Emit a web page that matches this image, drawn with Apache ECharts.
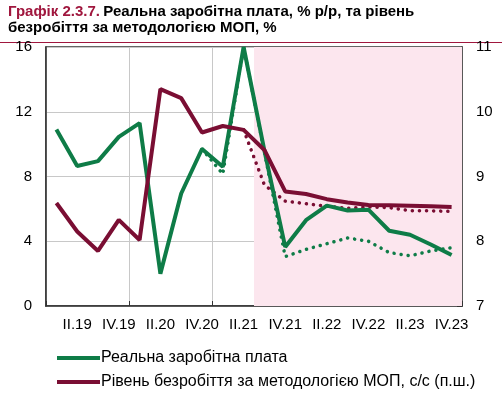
<!DOCTYPE html>
<html>
<head>
<meta charset="utf-8">
<script src="https://cdn.jsdelivr.net/npm/echarts@6/dist/echarts.min.js"></script>
<style>
html,body{margin:0;padding:0;background:#fff;}
#chart{width:502px;height:395px;}
</style>
</head>
<body>
<div id="chart"></div>
<script>
var categories = ['I.19','II.19','III.19','IV.19','I.20','II.20','III.20','IV.20','I.21','II.21','III.21','IV.21','I.22','II.22','III.22','IV.22','I.23','II.23','III.23','IV.23'];
var realWage = [10.9,8.65,8.95,10.45,11.3,2.0,6.95,9.7,8.6,16.0,9.6,3.65,5.3,6.2,5.9,5.95,4.65,4.4,3.8,3.15];
var realWageForecast = [null,null,null,null,null,null,null,9.7,8.15,16.0,9.5,3.05,3.5,3.85,4.2,4.0,3.3,3.1,3.4,3.6];
var unemployment = [8.59,8.15,7.85,8.33,8.02,10.35,10.21,9.68,9.78,9.72,9.41,8.77,8.73,8.65,8.6,8.56,8.555,8.55,8.54,8.53];
var unemploymentForecast = [null,null,null,null,null,null,null,null,null,9.72,8.87,8.62,8.58,8.54,8.51,8.53,8.52,8.47,8.47,8.46];
var shadedFrom = 'III.21';
var leftTicks = [0,4,8,12,16];
var rightTicks = [7,8,9,10,11];
var nameWage = 'Реальна заробітна плата';
var nameUnemp = 'Рівень безробіття за методологією МОП, с/с (п.ш.)';

var green = '#0E7C47';
var maroon = '#7A0E33';
var shadeStartIdx = categories.indexOf(shadedFrom);

var chart = echarts.init(document.getElementById('chart'), null, {renderer:'canvas'});
var font = '"Liberation Sans", Arial, sans-serif';
var dotStyle = function(c){ return {color:c, width:3.5, type:[0.1,7], cap:'round'}; };

chart.setOption({
  animation:false,
  textStyle:{fontFamily:font},
  graphic:[
    {type:'text', left:8, top:4, style:{rich:{r:{fill:'#A0173E',fontWeight:'bold',fontSize:15,fontFamily:font},b:{fill:'#000',fontWeight:'bold',fontSize:15,fontFamily:font}}, text:'{r|Графік 2.3.7.} {b|Реальна заробітна плата, % р/р, та рівень}'}},
    {type:'text', left:8, top:20, style:{text:'безробіття за методологією МОП, %', fill:'#000', fontWeight:'bold', fontSize:15, fontFamily:font}},
    {type:'rect', shape:{x:0,y:42,width:502,height:1}, style:{fill:'#A0173E'}}
  ],
  grid:{left:46, right:40, top:47, bottom:89, show:true, borderColor:'#333', borderWidth:1.5, backgroundColor:'transparent'},
  legend:{
    orient:'vertical', left:52, top:345, itemWidth:43, itemHeight:4, itemGap:8,
    icon:'rect',
    data:[{name:nameWage},{name:nameUnemp}],
    textStyle:{fontSize:16, color:'#000', fontFamily:font, padding:[0,0,0,-4]}
  },
  xAxis:[{
    type:'category', data:categories, boundaryGap:true,
    axisLine:{lineStyle:{color:'#333', width:1.5}},
    axisTick:{show:true, inside:true, length:5, interval:function(i){return i%4===0;}, lineStyle:{color:'#333'}},
    axisLabel:{interval:function(i){return i%2===1;}, fontSize:15, color:'#000', margin:11, fontFamily:font},
    splitLine:{show:true, interval:function(i){return i%4===0;}, lineStyle:{color:'#c8c8c8', width:1}}
  },{
    type:'value', min:0, max:categories.length, show:false
  }],
  yAxis:[{
    type:'value', min:leftTicks[0], max:leftTicks[leftTicks.length-1], interval:4,
    axisLine:{show:true, lineStyle:{color:'#333', width:1.5}},
    axisTick:{show:false},
    axisLabel:{fontSize:15, color:'#000', margin:14, fontFamily:font},
    splitLine:{show:true, lineStyle:{color:'#c8c8c8', width:1}}
  },{
    type:'value', min:rightTicks[0], max:rightTicks[rightTicks.length-1], interval:1,
    axisLine:{show:true, lineStyle:{color:'#333', width:1.5}},
    axisTick:{show:true, inside:true, length:5, lineStyle:{color:'#333'}},
    axisLabel:{fontSize:15, color:'#000', margin:14, fontFamily:font},
    splitLine:{show:false}
  }],
  series:[
    {type:'line', xAxisIndex:1, yAxisIndex:0, data:[], silent:true,
     markArea:{silent:true, itemStyle:{color:'#FCE6EE'}, data:[[{xAxis:shadeStartIdx},{xAxis:categories.length}]]}, z:0},
    {name:nameWage+' прогноз', type:'line', data:realWageForecast, yAxisIndex:0, symbol:'none', lineStyle:dotStyle(green), itemStyle:{color:green}, z:2},
    {name:nameUnemp+' прогноз', type:'line', data:unemploymentForecast, yAxisIndex:1, symbol:'none', lineStyle:dotStyle(maroon), itemStyle:{color:maroon}, z:2},
    {name:nameWage, type:'line', data:realWage, yAxisIndex:0, symbol:'none', lineStyle:{color:green, width:4}, itemStyle:{color:green}, z:3},
    {name:nameUnemp, type:'line', data:unemployment, yAxisIndex:1, symbol:'none', lineStyle:{color:maroon, width:4}, itemStyle:{color:maroon}, z:3}
  ]
});
</script>
</body>
</html>
